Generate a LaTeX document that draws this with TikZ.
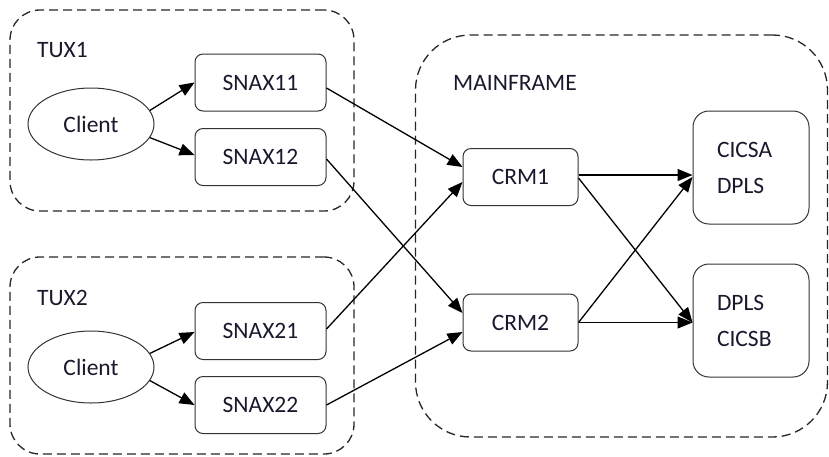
\documentclass[tikz,border=0pt]{standalone}
\usepackage{fontspec}
\setmainfont{Carlito}
\usetikzlibrary{arrows.meta,shapes.geometric}
\definecolor{txt}{RGB}{25,25,45}
\begin{document}
\begin{tikzpicture}[x=1pt,y=-1pt,
  every node/.style={text=txt,font=\fontsize{23.5}{36}\selectfont},
  group/.style={draw=black!85,line width=1.3pt,dash pattern=on 9pt off 5pt,rounded corners=#1,inner sep=0pt},
  group/.default=30pt,
  sbox/.style={draw=black!80,line width=1pt,rounded corners=8pt,minimum width=131pt,minimum height=57pt,inner sep=0pt},
  crm/.style={sbox,minimum width=115pt},
  rbox/.style={draw=black!80,line width=1pt,rounded corners=16pt,minimum width=116pt,minimum height=113pt,text width=68pt,align=left,inner sep=0pt},
  cli/.style={draw=black!80,line width=1pt,ellipse,minimum width=126pt,minimum height=72pt,inner sep=0pt},
  lbl/.style={anchor=west,inner sep=0pt},
  arr/.style={draw=black,line width=1.3pt,-{Triangle[length=15pt,width=12pt]}}]
\useasboundingbox (0,0) rectangle (829,456);
% containers
\node[group,minimum width=344pt,minimum height=201pt] (tux1) at (182,110.5) {};
\node[group,minimum width=344pt,minimum height=197pt] (tux2) at (182,355.5) {};
\node[group=55pt,minimum width=412pt,minimum height=402pt] (mf) at (621.5,236) {};
\node[lbl] (l1) at (37,50) {TUX1};
\node[lbl] (l2) at (37,298) {TUX2};
\node[lbl] (l3) at (453,83) {MAINFRAME};
% TUX1
\node[cli] (c1) at (91,124) {Client};
\node[sbox] (s11) at (260.5,82.5) {SNAX11};
\node[sbox] (s12) at (260.5,157) {SNAX12};
% TUX2
\node[cli] (c2) at (91,367) {Client};
\node[sbox] (s21) at (260.5,331) {SNAX21};
\node[sbox] (s22) at (260.5,405) {SNAX22};
% mainframe
\node[crm] (m1) at (520.5,177) {CRM1};
\node[crm] (m2) at (520.5,322.5) {CRM2};
\node[rbox] (ra) at (751,167.5) {CICSA\\DPLS};
\node[rbox] (rb) at (751,320.5) {DPLS\\CICSB};
% arrows
\draw[arr] (c1.13) -- (s11.west);
\draw[arr] (c1.-13) -- ([yshift=2pt]s12.west);
\draw[arr] (c2.13) -- ([yshift=-1pt]s21.west);
\draw[arr] (c2.-13) -- (s22.west);
\draw[arr] ([yshift=-5.5pt]s11.east) -- ([yshift=10pt]m1.west);
\draw[arr] ([yshift=-2pt]s12.east) -- ([yshift=9.5pt]m2.west);
\draw[arr] ([yshift=2pt]s21.east) -- ([yshift=-5pt]m1.west);
\draw[arr] (s22.east) -- ([yshift=-9.5pt]m2.west);
\draw[arr] ([yshift=2pt]m1.east) -- ([yshift=-7.5pt]ra.west);
\draw[arr] ([yshift=-1pt]m1.east) -- ([yshift=-2pt]rb.west);
\draw[arr] (m2.east) -- ([yshift=-9.5pt]ra.west);
\draw[arr] (m2.east) -- ([yshift=-2pt]rb.west);
\end{tikzpicture}
\end{document}
